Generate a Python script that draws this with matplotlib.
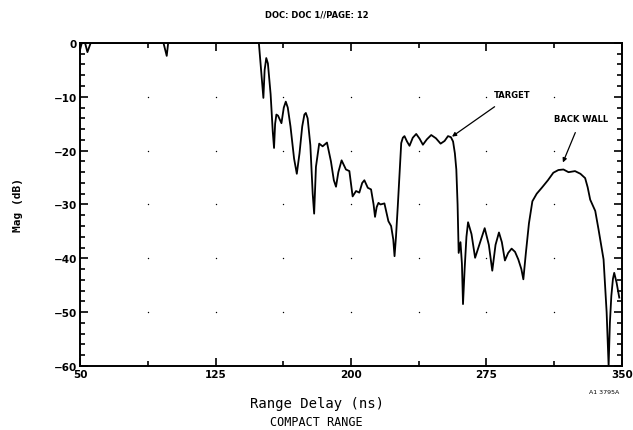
import numpy as np
from matplotlib import pyplot as plt

# range delay (ns) and magnitude (dB)
delay = [50, 51, 52.8, 54.1, 55.9, 96.2, 98.0, 98.8, 149.0,
         150.5, 151.5, 152.2, 153.1, 154.0, 155.5, 156.7, 157.4, 158.0, 158.7, 159.6, 161.5,
         162.8, 163.9, 165.0, 166.5, 168.5, 170.0, 171.5, 173.0, 174.2, 175.0, 176.0, 177.5,
         178.8, 179.6, 180.6, 182.4, 184.3, 186.7, 188.9, 190.5, 191.7, 193.0, 194.8, 197.2,
         199.1, 200.9, 202.8, 204.6, 206.2, 207.4, 209.3, 211.1, 212.5, 213.3, 214.2, 215.2,
         216.3, 218.5, 220.7, 222.2, 223.4, 224.1, 224.9, 225.9, 227.0, 227.8, 228.7, 229.6,
         231.0, 232.4, 234.2, 236.1, 238.0, 239.8, 242.0, 244.4, 247.0, 249.6, 251.8, 253.7,
         255.3, 256.5, 257.5, 258.3, 259.0, 259.6, 260.6, 261.4, 262.0, 262.9, 263.9, 264.8,
         266.7, 268.7, 271.5, 274.0, 276.3, 278.2, 280.0, 281.9, 283.5, 285.2, 287.0, 288.9,
         290.8, 292.6, 294.3, 295.4, 296.8, 298.5, 300.4, 302.8, 305.6, 309.0, 312.0, 314.8,
         317.6, 320.4, 324.0, 327.0, 329.6, 331.0, 332.4, 335.2, 337.0, 339.8, 341.5, 342.6,
         343.3, 344.1, 345.0, 345.7, 347.0, 348.5]
mag = [-1.3, 0, 0, -1.7, 0, 0, -2.4, 0, 0,
       -6.0, -10.2, -5.0, -2.8, -3.8, -9.5, -16.5, -19.5, -15.0, -13.3, -13.5, -14.9,
       -12.0, -10.9, -12.0, -15.5, -21.5, -24.3, -20.5, -15.5, -13.3, -13.0, -14.0, -19.0,
       -28.0, -31.7, -23.0, -18.7, -19.2, -18.5, -22.0, -25.5, -26.7, -24.0, -21.8, -23.5,
       -23.8, -28.5, -27.5, -27.8, -26.0, -25.5, -26.9, -27.2, -30.0, -32.3, -30.5, -29.7,
       -30.0, -29.8, -33.1, -34.0, -36.5, -39.6, -36.0, -30.3, -23.5, -18.6, -17.6, -17.3,
       -18.3, -19.1, -17.6, -16.9, -17.8, -18.9, -17.9, -17.1, -17.7, -18.7, -18.2, -17.3,
       -17.5, -18.3, -20.5, -23.5, -30.0, -39.0, -37.0, -41.0, -48.5, -42.0, -36.0, -33.3,
       -35.5, -39.9, -37.0, -34.4, -37.5, -42.3, -37.5, -35.2, -37.0, -40.4, -39.0, -38.2,
       -38.8, -40.2, -42.0, -43.9, -39.0, -33.5, -29.4, -28.0, -26.9, -25.5, -24.1, -23.6,
       -23.5, -24.0, -23.8, -24.3, -25.1, -26.8, -29.1, -31.2, -34.6, -40.2, -50.0, -60.0,
       -52.0, -47.0, -43.8, -42.7, -44.5, -47.3]

x_major = [50, 125, 200, 275, 350]
y_major = [0, -10, -20, -30, -40, -50, -60]

fig = plt.figure(figsize=(6.33, 4.31), dpi=100)
ax = fig.add_axes([0.1264, 0.1485, 0.8562, 0.7495])

ax.plot(delay, mag, color='black', linewidth=1.3, solid_joinstyle='round')

# dot grid at every tick crossing
gx, gy = np.meshgrid(np.arange(50, 351, 37.5), y_major)
ax.scatter(gx.ravel(), gy.ravel(), s=1.0, color='black', linewidths=0, zorder=1)

ax.set_xlim(50, 350)
ax.set_ylim(-60, 0)
ax.set_xticks(x_major)
ax.set_xticks(np.arange(50, 351, 37.5), minor=True)
ax.set_yticks(y_major)
ax.set_yticks(np.arange(-60, 1, 2), minor=True)
ax.tick_params(which='both', direction='in', top=True, right=True, width=1.2,
               labelsize=7.5, pad=2)
ax.tick_params(which='major', length=6)
ax.tick_params(which='minor', length=3.5)
for lab in ax.get_xticklabels() + ax.get_yticklabels():
    lab.set_fontweight('bold')
for s in ax.spines.values():
    s.set_linewidth(1.4)

ax.annotate('TARGET', xy=(255.9, -17.4), xytext=(289, -9.6), fontsize=6, fontweight='bold',
            ha='center', va='center',
            arrowprops=dict(arrowstyle='-|>', color='black', lw=0.9, shrinkA=6, shrinkB=0))
ax.annotate('BACK WALL', xy=(317.3, -22.2), xytext=(327.3, -14.1), fontsize=6, fontweight='bold',
            ha='center', va='center',
            arrowprops=dict(arrowstyle='-|>', color='black', lw=0.9, shrinkA=5, shrinkB=0))

fig.text(0.5, 0.965, 'DOC: DOC 1//PAGE: 12', ha='center', va='center', fontsize=6, fontweight='bold')
fig.text(0.028, 0.525, 'Mag (dB)', rotation=90, ha='center', va='center', fontsize=8,
         fontweight='bold', family='DejaVu Sans Mono')
fig.text(0.5, 0.062, 'Range Delay (ns)', ha='center', va='center', fontsize=10,
         family='DejaVu Sans Mono')
fig.text(0.5, 0.02, 'COMPACT RANGE', ha='center', va='center', fontsize=8.5,
         family='DejaVu Sans Mono')
fig.text(0.955, 0.09, 'A1 3795A', ha='center', va='center', fontsize=4.5)

fig.savefig('out.png', dpi=100)
